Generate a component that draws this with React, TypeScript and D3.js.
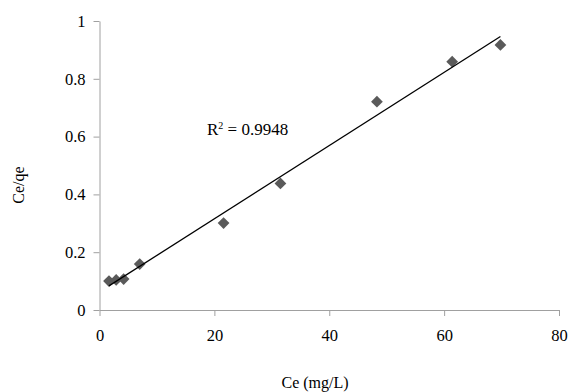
import React, { useEffect, useRef } from "react";
import * as d3 from "d3";

const ceValues = [1.65, 2.9, 4.2, 7.0, 21.6, 31.5, 48.3, 61.4, 69.8];
const ceQeValues = [0.100, 0.104, 0.107, 0.159, 0.301, 0.438, 0.721, 0.859, 0.917];
const xTicks = [0, 20, 40, 60, 80];
const yTicks = [0, 0.2, 0.4, 0.6, 0.8, 1];
const r2Label = "0.9948";

const W = 568;
const H = 392;

export default function App() {
  const ref = useRef<SVGSVGElement | null>(null);

  useEffect(() => {
    const svg = d3.select(ref.current);
    svg.selectAll("*").remove();

    const x = d3.scaleLinear().domain([0, 80]).range([99.5, 559]);
    const y = d3.scaleLinear().domain([0, 1]).range([310, 21]);
    const font = "Liberation Serif, Times New Roman, serif";
    const axisColor = "#a0a0a0";

    const xAxis = svg.append("g").attr("transform", `translate(0,${y(0)})`)
      .call(d3.axisBottom(x).tickValues(xTicks).tickSize(6).tickSizeOuter(0).tickFormat(d3.format("d")));
    xAxis.attr("font-family", null).attr("font-size", null);
    xAxis.select(".domain").attr("stroke", axisColor);
    xAxis.selectAll(".tick line").attr("stroke", axisColor);
    xAxis.selectAll(".tick text").attr("fill", "#000").style("font-family", font).style("font-size", "16.5px").attr("dy", "1.35em");

    const yAxis = svg.append("g").attr("transform", `translate(${x(0)},0)`)
      .call(d3.axisLeft(y).tickValues(yTicks).tickSize(6).tickSizeOuter(0).tickFormat((d: any) => d3.format("")(+d)));
    yAxis.attr("font-family", null).attr("font-size", null);
    yAxis.select(".domain").attr("stroke", axisColor);
    yAxis.selectAll(".tick line").attr("stroke", axisColor);
    yAxis.selectAll(".tick text").attr("fill", "#000").style("font-family", font).style("font-size", "16.5px").attr("x", -14);

    const n = ceValues.length;
    const mx = d3.mean(ceValues) as number;
    const my = d3.mean(ceQeValues) as number;
    let sxy = 0, sxx = 0;
    for (let i = 0; i < n; i++) {
      sxy += (ceValues[i] - mx) * (ceQeValues[i] - my);
      sxx += (ceValues[i] - mx) ** 2;
    }
    const slope = sxy / sxx;
    const intercept = my - slope * mx;
    const x0 = d3.min(ceValues) as number;
    const x1 = d3.max(ceValues) as number;

    const sym = d3.symbol().type(d3.symbolDiamond2).size(88);
    svg.append("g").selectAll("path").data(ceValues).join("path")
      .attr("d", sym as any)
      .attr("transform", (d, i) => `translate(${x(d)},${y(ceQeValues[i])})`)
      .attr("fill", "#5a5a5a");

    const line = d3.line<number>().x((d) => x(d)).y((d) => y(slope * d + intercept));
    svg.append("path").datum([x0, x1]).attr("d", line).attr("stroke", "#000").attr("stroke-width", 1.3).attr("fill", "none");

    const t = svg.append("text").attr("x", 207).attr("y", 135).style("font-family", font).style("font-size", "17px").attr("fill", "#000");
    t.append("tspan").text("R");
    t.append("tspan").style("font-size", "10px").attr("dy", -6).text("2");
    t.append("tspan").attr("dy", 6).text(" = " + r2Label);

    svg.append("text").attr("x", 315).attr("y", 388).attr("text-anchor", "middle")
      .style("font-family", font).style("font-size", "16px").attr("fill", "#000").text("Ce (mg/L)");
    svg.append("text").attr("transform", "translate(24,185) rotate(-90)").attr("text-anchor", "middle")
      .style("font-family", font).style("font-size", "16px").attr("fill", "#000").text("Ce/qe");
  }, []);

  return (
    <svg ref={ref} width={W} height={H} style={{ position: "absolute", left: 0, top: 0, background: "#fff" }} />
  );
}
